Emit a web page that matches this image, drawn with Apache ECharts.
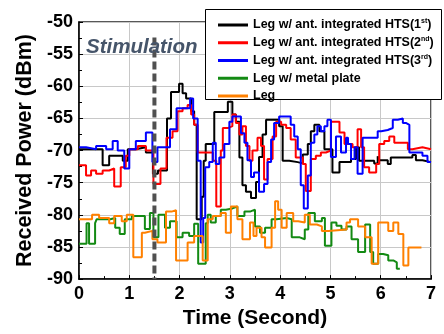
<!DOCTYPE html>
<html>
<head>
<meta charset="utf-8">
<script src="https://cdn.jsdelivr.net/npm/echarts@6/dist/echarts.min.js"></script>
<style>
  html, body { margin: 0; padding: 0; background: #fff; }
  #chart { width: 444px; height: 334px; }
</style>
</head>
<body>
<div id="chart"></div>
<script>
// Received power traces, stored as [time (s), power (dBm)] breakpoints of a step signal.
const xTicks = [0, 1, 2, 3, 4, 5, 6, 7];
const yTicks = [-90, -85, -80, -75, -70, -65, -60, -55, -50];
const stimulationTime = 1.5;

const hts1 = [[0,-69.8],[0.47,-72.3],[0.60,-70.8],[0.87,-71.6],[0.97,-69.8],[1.13,-69.5],[1.33,-70.3],[1.47,-73.6],[1.57,-73.1],[1.75,-65.0],[1.83,-60.9],[1.99,-59.6],[2.06,-61.1],[2.13,-61.9],[2.23,-63.9],[2.29,-66.0],[2.34,-80.7],[2.44,-77.2],[2.48,-71.6],[2.52,-69.0],[2.69,-64.0],[2.96,-62.4],[3.05,-64.4],[3.12,-65.5],[3.19,-71.1],[3.25,-75.4],[3.32,-76.4],[3.42,-77.4],[3.52,-74.9],[3.58,-71.0],[3.65,-67.5],[3.72,-65.2],[3.98,-66.2],[4.05,-71.6],[4.18,-71.8],[4.35,-72.0],[4.45,-70.6],[4.55,-69.0],[4.61,-67.0],[4.68,-66.0],[4.78,-67.0],[4.88,-69.8],[5.04,-73.4],[5.18,-71.8],[5.41,-71.3],[5.51,-69.5],[5.57,-71.6],[5.87,-72.0],[5.94,-70.9],[5.97,-71.5],[6.14,-72.1],[6.20,-71.1],[6.63,-70.7],[6.70,-71.5],[6.83,-71.8],[7.0,-71.8]];

const hts2 = [[0,-72.3],[0.14,-73.9],[0.24,-73.1],[0.34,-73.6],[0.47,-73.1],[0.60,-72.8],[0.70,-75.6],[0.83,-72.6],[0.93,-70.8],[1.00,-69.8],[1.17,-69.3],[1.33,-70.0],[1.48,-75.2],[1.62,-72.8],[1.74,-68.0],[1.86,-67.0],[1.96,-63.9],[2.06,-63.4],[2.16,-62.9],[2.23,-64.4],[2.29,-66.0],[2.36,-70.3],[2.66,-71.6],[2.73,-78.7],[2.82,-70.0],[2.86,-66.5],[2.96,-66.2],[3.05,-64.4],[3.12,-65.7],[3.19,-67.5],[3.25,-66.2],[3.32,-69.3],[3.39,-71.6],[3.45,-70.0],[3.55,-68.0],[3.62,-69.3],[3.68,-74.5],[3.75,-71.3],[3.85,-67.8],[3.92,-65.5],[4.02,-66.0],[4.12,-66.5],[4.21,-68.3],[4.31,-71.1],[4.45,-72.1],[4.51,-76.3],[4.61,-71.3],[4.71,-70.8],[4.81,-70.3],[4.91,-70.0],[5.01,-65.5],[5.18,-67.2],[5.28,-69.0],[5.44,-69.5],[5.54,-66.7],[5.61,-69.5],[5.67,-72.6],[5.77,-73.4],[5.91,-72.1],[5.97,-69.0],[6.07,-68.5],[6.17,-67.8],[6.27,-68.8],[6.54,-69.8],[6.63,-69.5],[6.83,-69.8],[7.0,-69.8]];

const hts3 = [[0,-69.5],[0.14,-69.8],[0.34,-69.3],[0.54,-69.8],[0.67,-68.5],[0.77,-70.0],[0.90,-72.8],[1.00,-69.8],[1.13,-68.5],[1.33,-67.2],[1.46,-71.8],[1.56,-69.5],[1.81,-66.7],[1.94,-63.4],[2.21,-61.9],[2.27,-65.0],[2.36,-71.6],[2.42,-84.3],[2.47,-80.5],[2.51,-72.6],[2.59,-71.8],[2.66,-68.8],[2.72,-72.1],[2.79,-71.1],[2.89,-69.0],[2.99,-65.5],[3.05,-64.7],[3.22,-67.3],[3.29,-68.8],[3.35,-71.5],[3.42,-74.1],[3.48,-73.4],[3.58,-76.4],[3.68,-75.2],[3.75,-71.8],[3.82,-68.3],[3.88,-65.7],[3.98,-64.7],[4.21,-66.0],[4.28,-67.8],[4.35,-69.8],[4.41,-75.4],[4.47,-79.0],[4.55,-73.9],[4.61,-68.8],[4.68,-67.5],[4.74,-66.2],[4.81,-67.0],[4.88,-66.2],[4.94,-65.2],[5.01,-71.0],[5.11,-67.8],[5.21,-70.3],[5.31,-68.0],[5.35,-69.0],[5.41,-71.3],[5.48,-69.5],[5.54,-73.6],[5.64,-68.0],[5.94,-67.0],[6.01,-66.8],[6.14,-66.5],[6.24,-65.2],[6.34,-65.0],[6.44,-65.7],[6.50,-66.0],[6.57,-70.3],[6.83,-70.8],[6.93,-71.8],[7.0,-71.8]];

const metalPlate = [[0,-84.5],[0.15,-81.3],[0.20,-84.5],[0.32,-81.3],[0.35,-80.7],[0.62,-80.5],[0.72,-82.0],[0.81,-83.0],[0.91,-80.7],[1.05,-80.2],[1.31,-82.2],[1.41,-79.7],[1.48,-83.5],[1.58,-80.0],[1.71,-82.0],[1.81,-81.0],[1.94,-83.5],[2.06,-82.8],[2.19,-83.3],[2.29,-81.4],[2.37,-87.6],[2.52,-81.3],[2.56,-80.0],[2.62,-81.2],[2.72,-80.2],[2.82,-79.2],[2.92,-79.0],[3.05,-78.7],[3.15,-80.2],[3.29,-79.5],[3.40,-79.2],[3.50,-81.8],[3.60,-82.8],[3.70,-82.0],[3.83,-80.7],[3.93,-80.5],[4.13,-80.7],[4.23,-83.5],[4.39,-83.8],[4.49,-82.3],[4.56,-79.7],[4.69,-81.0],[4.83,-80.5],[4.89,-84.8],[5.02,-81.2],[5.12,-81.7],[5.22,-82.3],[5.32,-81.8],[5.42,-83.8],[5.55,-85.8],[5.69,-81.5],[5.79,-85.8],[5.85,-87.6],[5.95,-86.1],[6.05,-86.3],[6.15,-87.1],[6.25,-87.4],[6.32,-88.4],[6.38,-88.4]];

const bareLeg = [[0,-80.7],[0.26,-80.0],[0.40,-80.5],[0.60,-81.3],[0.70,-80.2],[0.85,-81.0],[0.95,-80.0],[1.08,-86.6],[1.25,-82.8],[1.31,-82.5],[1.46,-83.8],[1.56,-84.3],[1.73,-79.5],[1.84,-79.3],[1.93,-87.1],[2.16,-84.3],[2.29,-83.3],[2.46,-87.1],[2.56,-80.7],[2.66,-80.2],[2.82,-79.7],[2.92,-82.8],[3.02,-78.7],[3.15,-80.7],[3.25,-83.8],[3.40,-81.2],[3.47,-83.3],[3.53,-82.0],[3.63,-83.5],[3.70,-85.1],[3.83,-82.0],[3.90,-77.9],[3.96,-79.2],[4.03,-82.0],[4.13,-79.7],[4.26,-81.0],[4.36,-81.2],[4.49,-80.0],[4.59,-81.5],[4.73,-81.8],[4.83,-82.5],[4.96,-82.3],[5.32,-81.2],[5.39,-80.7],[5.55,-81.8],[5.69,-83.5],[5.82,-87.6],[5.95,-81.2],[6.15,-82.5],[6.25,-81.2],[6.35,-83.0],[6.45,-87.9],[6.55,-85.1],[6.81,-85.1]];

const seriesNames = ['hts1', 'hts2', 'hts3', 'metal', 'leg'];
const seriesLabels = {
  hts1: '{t|Leg w/ ant. integrated HTS(1}{s|st}{t|)}',
  hts2: '{t|Leg w/ ant. integrated HTS(2}{s|nd}{t|)}',
  hts3: '{t|Leg w/ ant. integrated HTS(3}{s|rd}{t|)}',
  metal: '{t|Leg w/ metal plate}',
  leg: '{t|Leg}'
};
const seriesData = [hts1, hts2, hts3, metalPlate, bareLeg];
const seriesColors = ['#000000', '#ff0000', '#0000ff', '#138a13', '#ff8000'];

const FONT = '"Liberation Sans", Arial, sans-serif';

const chart = echarts.init(document.getElementById('chart'), null, { renderer: 'canvas' });

const traces = seriesNames.map((name, i) => ({
  name: name,
  type: 'line',
  step: 'end',
  data: seriesData[i],
  symbol: 'none',
  lineStyle: { color: seriesColors[i], width: 2 },
  itemStyle: { color: seriesColors[i] },
  animation: false,
  z: 3
}));

// Vertical dashed marker at the stimulation instant
traces.push({
  name: 'stim',
  type: 'line',
  data: [[stimulationTime, -52.4], [stimulationTime, -90]],
  symbol: 'none',
  silent: true,
  lineStyle: { color: '#505050', width: 4, type: [8, 4] },
  animation: false,
  z: 4
});

chart.setOption({
  backgroundColor: '#ffffff',
  animation: false,
  grid: {
    left: 79, right: 13, top: 22, bottom: 50,
    show: true, borderColor: '#222', borderWidth: 1.5, backgroundColor: 'transparent'
  },
  xAxis: {
    type: 'value', min: xTicks[0], max: xTicks[xTicks.length - 1], interval: 1,
    name: 'Time (Second)', nameLocation: 'middle', nameGap: 25,
    nameTextStyle: { fontFamily: FONT, fontWeight: 'bold', fontSize: 21, color: '#000' },
    axisLine: { show: true, lineStyle: { color: '#000', width: 1.5 } },
    axisTick: { show: true, inside: true, length: 4, lineStyle: { color: '#000' } },
    minorTick: { show: true, splitNumber: 2, length: 3, lineStyle: { color: '#000' } },
    splitLine: { show: true, lineStyle: { color: '#c8c8c8', width: 1 } },
    axisLabel: { fontFamily: FONT, fontWeight: 'bold', fontSize: 18, color: '#000', margin: 6 }
  },
  yAxis: {
    type: 'value', min: yTicks[0], max: yTicks[yTicks.length - 1], interval: 5,
    name: 'Received Power (dBm)', nameLocation: 'middle', nameGap: 43,
    nameTextStyle: { fontFamily: FONT, fontWeight: 'bold', fontSize: 21.5, color: '#000' },
    axisLine: { show: true, lineStyle: { color: '#000', width: 1.5 } },
    axisTick: { show: true, inside: true, length: 4, lineStyle: { color: '#000' } },
    minorTick: { show: true, splitNumber: 2, length: 3, lineStyle: { color: '#000' } },
    splitLine: { show: true, lineStyle: { color: '#c8c8c8', width: 1 } },
    axisLabel: { fontFamily: FONT, fontWeight: 'bold', fontSize: 18, color: '#000', margin: 6 }
  },
  legend: {
    data: seriesNames,
    orient: 'vertical',
    left: 206, top: 18,
    padding: [0, 6, 0, 12],
    itemGap: 3.75,
    itemWidth: 30, itemHeight: 3,
    icon: 'rect',
    selectedMode: false,
    z: 10,
    formatter: name => seriesLabels[name],
    textStyle: {
      color: '#000', fontFamily: FONT, fontWeight: 'bold', fontSize: 12.5, lineHeight: 14,
      rich: {
        t: { fontFamily: FONT, fontWeight: 'bold', fontSize: 12.5, lineHeight: 14, color: '#000' },
        s: { fontFamily: FONT, fontWeight: 'bold', fontSize: 7, lineHeight: 14, color: '#000', verticalAlign: 'top' }
      }
    }
  },
  graphic: [{
    // legend frame
    type: 'rect',
    z: 8,
    shape: { x: 205.5, y: 9.5, width: 236, height: 90 },
    style: { fill: '#ffffff', stroke: '#000000', lineWidth: 1 }
  }, {
    type: 'text',
    left: 86, top: 37,
    z: 5,
    style: {
      text: 'Stimulation',
      fontFamily: FONT, fontWeight: 'bold', fontStyle: 'italic', fontSize: 20.5,
      fill: '#46556a'
    }
  }],
  series: traces
});
</script>
</body>
</html>
